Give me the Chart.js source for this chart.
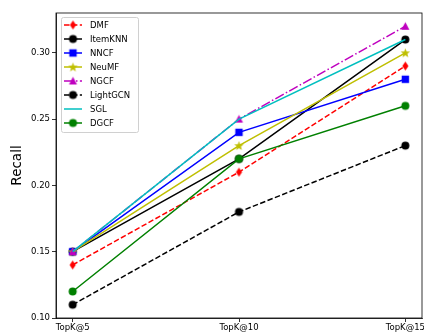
<!DOCTYPE html>
<html>
<head>
<meta charset="utf-8">
<script src="https://cdn.jsdelivr.net/npm/chart.js@4.4.1/dist/chart.umd.min.js"></script>
<style>
  html, body { margin: 0; padding: 0; background: #fff; overflow: hidden; }
  #wrap { width: 424px; height: 334px; overflow: hidden; }
</style>
</head>
<body>
<div id="wrap"><canvas id="chart" width="444" height="334"></canvas></div>
<script>
// values
const categories = ['TopK@5', 'TopK@10', 'TopK@15'];
const dmf      = [0.14, 0.21, 0.29];
const itemKnn  = [0.15, 0.22, 0.31];
const nncf     = [0.15, 0.24, 0.28];
const neuMf    = [0.15, 0.23, 0.30];
const ngcf     = [0.15, 0.25, 0.32];
const lightGcn = [0.11, 0.18, 0.23];
const sgl      = [0.15, 0.25, 0.31];
const dgcf     = [0.12, 0.22, 0.26];
const yTicks   = [0.10, 0.15, 0.20, 0.25, 0.30];

const FONT = 'DejaVu Sans';

// small marker images, closer to matplotlib than the built-in shapes
function marker(shape, color) {
  const c = document.createElement('canvas');
  c.width = 11; c.height = 11;
  const g = c.getContext('2d');
  g.fillStyle = color;
  g.beginPath();
  if (shape === 'thinDiamond') {
    g.moveTo(5.5, 1); g.lineTo(8.6, 5.5); g.lineTo(5.5, 10); g.lineTo(2.4, 5.5);
  } else if (shape === 'circle') {
    g.arc(5.5, 5.5, 4, 0, Math.PI * 2);
  } else if (shape === 'square') {
    g.rect(1.8, 1.8, 7.4, 7.4);
  } else if (shape === 'triangle') {
    g.moveTo(5.5, 1.3); g.lineTo(9.5, 9); g.lineTo(1.5, 9);
  } else if (shape === 'star') {
    for (let k = 0; k < 10; k++) {
      const r = k % 2 === 0 ? 5 : 2.1;
      const a = -Math.PI / 2 + k * Math.PI / 5;
      const px = 5.5 + r * Math.cos(a), py = 5.9 + r * Math.sin(a);
      if (k === 0) g.moveTo(px, py); else g.lineTo(px, py);
    }
  }
  g.closePath();
  g.fill();
  return c;
}

function points(vals) {
  return vals.map((v, i) => ({ x: i, y: v }));
}

const series = [
  { label: 'DMF',      data: dmf,      color: '#ff0000', dash: [5.5, 2.4],           mark: 'thinDiamond' },
  { label: 'ItemKNN',  data: itemKnn,  color: '#000000', dash: [],                   mark: 'circle' },
  { label: 'NNCF',     data: nncf,     color: '#0000ff', dash: [],                   mark: 'square' },
  { label: 'NeuMF',    data: neuMf,    color: '#bfbf00', dash: [],                   mark: 'star' },
  { label: 'NGCF',     data: ngcf,     color: '#bf00bf', dash: [9.6, 2.4, 1.5, 2.4], mark: 'triangle' },
  { label: 'LightGCN', data: lightGcn, color: '#000000', dash: [5.5, 2.4],           mark: 'circle' },
  { label: 'SGL',      data: sgl,      color: '#00bfbf', dash: [],                   mark: null },
  { label: 'DGCF',     data: dgcf,     color: '#008000', dash: [],                   mark: 'circle' }
];

series.forEach(s => { s.img = s.mark ? marker(s.mark, s.color) : null; });

const datasets = series.map((s, i) => ({
  label: s.label,
  data: points(s.data),
  borderColor: s.color,
  backgroundColor: s.color,
  borderWidth: 1.5,
  borderDash: s.dash,
  pointStyle: s.img || false,
  pointRadius: s.img ? 5 : 0,
  pointHoverRadius: s.img ? 5 : 0,
  tension: 0,
  order: -i
}));

// box around the axes and the legend in the upper left corner
const framePlugin = {
  id: 'frame',
  afterDraw(chart) {
    const ctx = chart.ctx;
    const a = chart.chartArea;
    ctx.save();
    ctx.strokeStyle = '#000';
    ctx.lineWidth = 0.8;
    ctx.strokeRect(a.left, a.top, a.right - a.left, a.bottom - a.top);

    const bx = 61, by = 17, bw = 77, bh = 115;
    ctx.beginPath();
    ctx.roundRect(bx + 0.5, by + 0.5, bw, bh, 2);
    ctx.fillStyle = 'rgba(255,255,255,0.8)';
    ctx.fill();
    ctx.strokeStyle = '#d0d0d0';
    ctx.lineWidth = 1;
    ctx.stroke();

    ctx.font = '8.5px "' + FONT + '"';
    ctx.textBaseline = 'middle';
    ctx.textAlign = 'left';
    series.forEach((s, i) => {
      const y = 25 + 14 * i;
      ctx.beginPath();
      ctx.setLineDash(s.dash);
      ctx.strokeStyle = s.color;
      ctx.lineWidth = 1.5;
      ctx.moveTo(64, y);
      ctx.lineTo(82, y);
      ctx.stroke();
      ctx.setLineDash([]);
      if (s.img) ctx.drawImage(s.img, 73 - 5.5, y - 5.5);
      ctx.fillStyle = '#000';
      ctx.fillText(s.label, 90, y + 0.5);
    });
    ctx.restore();
  }
};

new Chart(document.getElementById('chart'), {
  type: 'line',
  data: { datasets },
  options: {
    responsive: false,
    devicePixelRatio: 1,
    animation: false,
    layout: { padding: { top: 13, right: 22, left: 0, bottom: 0 } },
    plugins: {
      legend: { display: false },
      tooltip: { enabled: false }
    },
    scales: {
      x: {
        type: 'linear',
        min: -0.1,
        max: 2.1,
        afterBuildTicks: s => { s.ticks = categories.map((c, i) => ({ value: i })); },
        afterFit: s => { s.height = 16; s.paddingLeft = 0; s.paddingRight = 0; },
        ticks: {
          callback: v => categories[v],
          color: '#000',
          font: { family: FONT, size: 8.5 },
          padding: 1,
          maxRotation: 0,
          autoSkip: false
        },
        grid: { drawOnChartArea: false, tickLength: 4, color: '#000', lineWidth: 0.8 },
        border: { color: '#000', width: 0.8 }
      },
      y: {
        min: 0.10,
        max: 0.33,
        afterBuildTicks: s => { s.ticks = yTicks.map(v => ({ value: v })); },
        afterFit: s => { s.width = 56; },
        ticks: {
          callback: v => v.toFixed(2),
          color: '#000',
          font: { family: FONT, size: 8.5 },
          padding: 2
        },
        grid: { drawOnChartArea: false, tickLength: 4, color: '#000', lineWidth: 0.8 },
        border: { color: '#000', width: 0.8 },
        title: {
          display: true,
          text: 'Recall',
          color: '#000',
          font: { family: FONT, size: 13.5, lineHeight: 1 },
          padding: { top: 11, bottom: 0 }
        }
      }
    }
  },
  plugins: [framePlugin]
});
</script>
</body>
</html>
